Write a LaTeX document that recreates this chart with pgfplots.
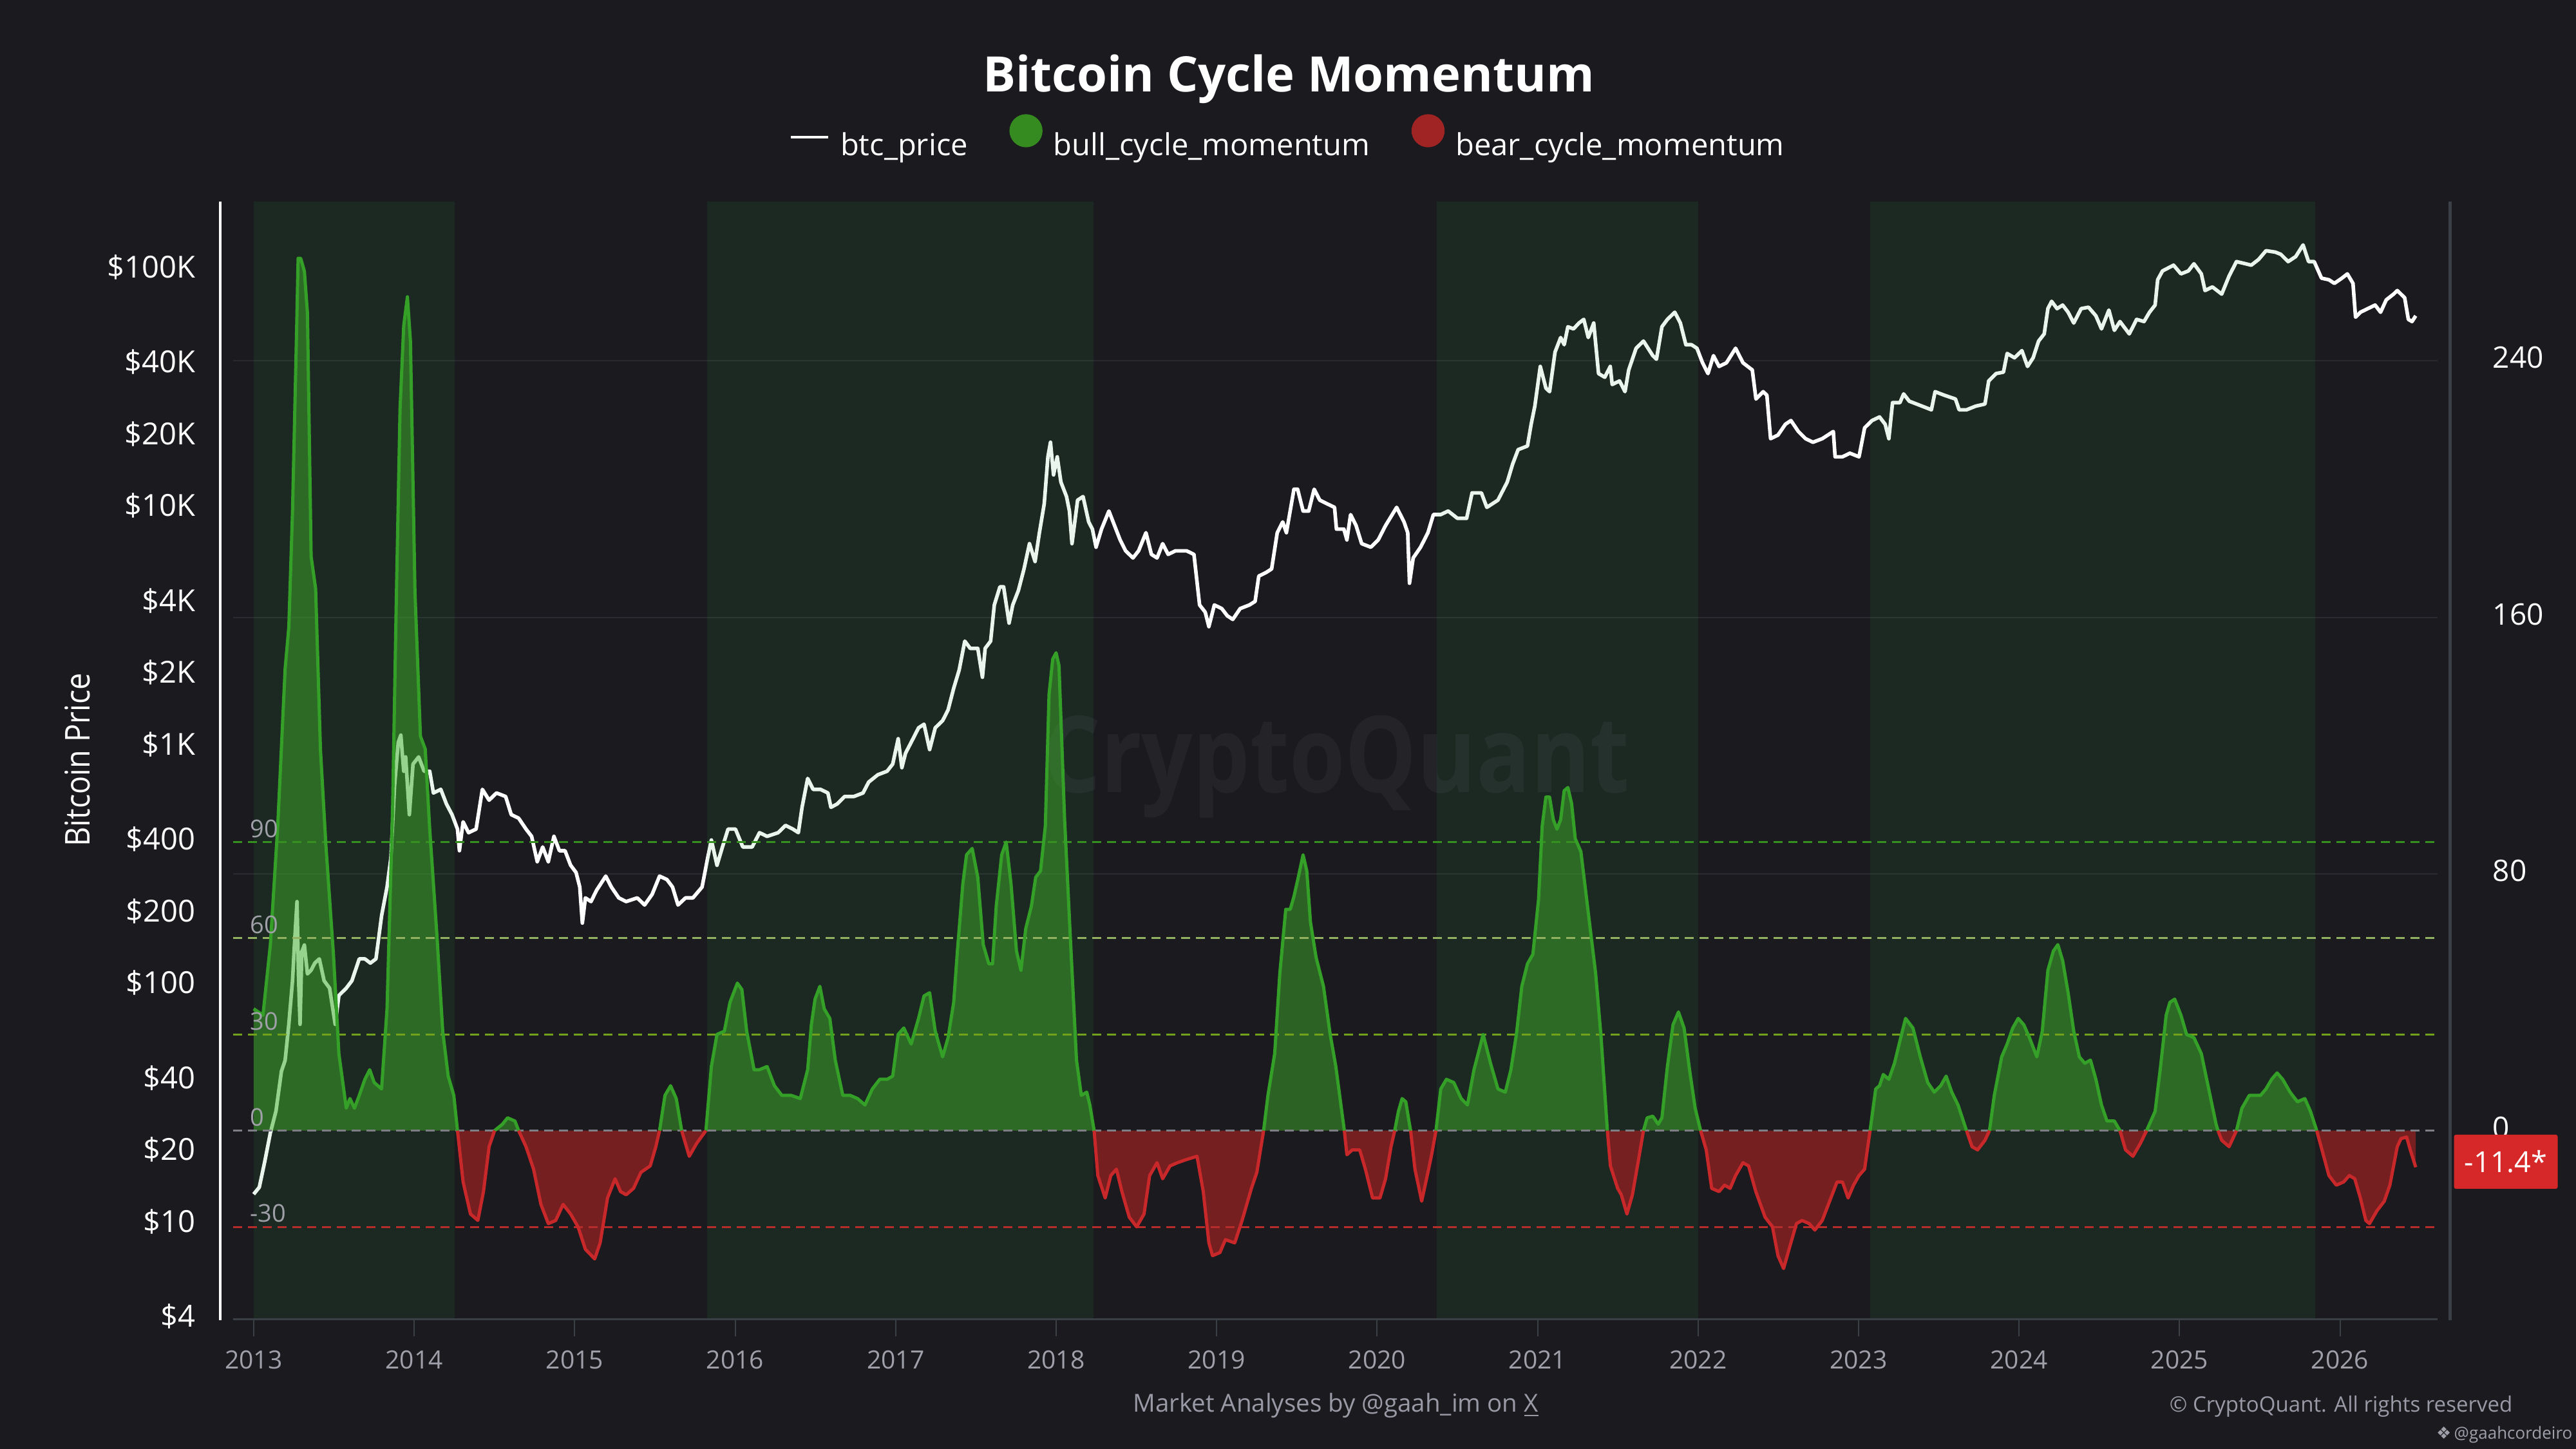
\documentclass[border=0pt]{standalone}
\usepackage{pgfplots}
\pgfplotsset{compat=1.18}
\usepackage{pgfplotstable}
\usepackage{fontspec}
\setmainfont{Open Sans}
\newfontfamily\dejavu{DejaVu Sans}

\definecolor{bg}{HTML}{1A1A1F}
\definecolor{band}{HTML}{37AF50}
\definecolor{bullfill}{HTML}{3FAF2B}
\definecolor{bullline}{HTML}{35A028}
\definecolor{bearfill}{HTML}{7A2022}
\definecolor{bearline}{HTML}{C8282A}
\definecolor{axgray}{HTML}{3B4046}
\definecolor{gridc}{HTML}{2A2A30}
\definecolor{ticktext}{HTML}{A0A0AA}
\definecolor{lv90}{HTML}{35901F}
\definecolor{lv60}{HTML}{92B262}
\definecolor{lv30}{HTML}{72A21C}
\definecolor{lv0}{HTML}{7E7E86}
\definecolor{lvm30}{HTML}{B52C2B}
\definecolor{boxred}{HTML}{D62828}
\definecolor{foot}{HTML}{9A9AA6}
\definecolor{legg}{HTML}{358A20}
\definecolor{legr}{HTML}{A02424}
\definecolor{lvtext}{HTML}{A0A0A8}

\pgfplotstableread{
t p
2013.000 13.0
2013.035 13.9
2013.069 17.8
2013.104 23.5
2013.139 29.0
2013.173 42.6
2013.196 47.3
2013.219 67
2013.242 102
2013.254 144
2013.270 219
2013.279 109
2013.289 67
2013.300 135
2013.316 144
2013.335 109
2013.358 113
2013.381 121
2013.409 126
2013.439 102
2013.473 95
2013.508 67
2013.531 88.5
2013.577 95
2013.612 102
2013.658 126
2013.693 126
2013.727 121
2013.762 126
2013.797 191
2013.831 252
2013.855 334
2013.878 670
2013.901 1019
2013.917 1092
2013.935 771
2013.947 885
2013.970 507
2013.993 826
2014.028 885
2014.062 771
2014.097 771
2014.120 625
2014.166 647
2014.201 562
2014.236 507
2014.270 441
2014.282 358
2014.305 473
2014.339 426
2014.386 441
2014.425 647
2014.467 583
2014.513 625
2014.570 604
2014.605 507
2014.651 490
2014.697 441
2014.732 411
2014.767 322
2014.801 371
2014.836 322
2014.871 411
2014.905 358
2014.940 358
2014.975 311
2015.009 290
2015.032 252
2015.048 178
2015.067 227
2015.102 219
2015.136 244
2015.194 280
2015.229 252
2015.275 227
2015.321 219
2015.390 227
2015.436 212
2015.483 235
2015.529 280
2015.575 271
2015.610 252
2015.644 212
2015.691 227
2015.737 227
2015.794 252
2015.829 334
2015.852 397
2015.887 311
2015.921 371
2015.956 441
2016.002 441
2016.048 371
2016.106 371
2016.152 426
2016.199 411
2016.268 426
2016.314 457
2016.360 441
2016.394 426
2016.417 544
2016.452 719
2016.486 647
2016.532 647
2016.578 625
2016.597 544
2016.636 562
2016.682 604
2016.740 604
2016.797 625
2016.832 694
2016.889 745
2016.947 771
2016.982 826
2017.016 1055
2017.039 798
2017.062 918
2017.097 1019
2017.143 1172
2017.177 1213
2017.212 950
2017.247 1172
2017.293 1256
2017.327 1394
2017.362 1718
2017.396 2047
2017.431 2706
2017.465 2523
2017.512 2523
2017.541 1910
2017.558 2523
2017.592 2706
2017.615 3837
2017.650 4571
2017.673 4571
2017.707 3221
2017.730 3837
2017.765 4409
2017.800 5433
2017.834 6934
2017.869 5834
2017.896 7709
2017.926 10184
2017.949 16032
2017.965 18450
2017.984 13463
2018.007 16032
2018.030 12560
2018.065 10920
2018.083 9500
2018.099 6934
2018.134 10550
2018.168 10920
2018.203 8550
2018.226 7980
2018.249 6700
2018.283 7980
2018.329 9500
2018.364 8260
2018.399 7190
2018.433 6470
2018.479 6040
2018.514 6470
2018.560 7709
2018.594 6250
2018.629 6040
2018.664 6934
2018.698 6250
2018.744 6470
2018.813 6470
2018.859 6250
2018.894 3837
2018.929 3581
2018.952 3112
2018.986 3837
2019.032 3706
2019.067 3454
2019.101 3337
2019.147 3706
2019.205 3837
2019.240 3972
2019.263 5070
2019.309 5250
2019.343 5433
2019.378 7709
2019.412 8550
2019.435 7709
2019.482 11720
2019.505 11720
2019.539 9500
2019.574 9500
2019.608 11720
2019.643 10550
2019.689 10184
2019.735 9840
2019.747 7980
2019.793 7980
2019.812 7190
2019.835 9180
2019.869 8260
2019.904 6934
2019.961 6700
2020.007 7190
2020.053 8260
2020.122 9840
2020.168 8550
2020.191 7709
2020.202 4730
2020.225 6040
2020.271 6700
2020.317 7709
2020.351 9180
2020.397 9180
2020.443 9500
2020.501 8850
2020.558 8850
2020.592 11320
2020.650 11320
2020.684 9840
2020.753 10550
2020.811 12560
2020.845 14960
2020.879 17180
2020.937 17790
2020.960 21940
2020.983 26140
2021.017 38350
2021.052 31120
2021.075 30060
2021.109 44060
2021.144 50700
2021.166 47300
2021.189 56250
2021.224 55100
2021.258 58300
2021.288 60400
2021.316 50700
2021.350 58300
2021.380 35800
2021.419 34550
2021.453 38350
2021.465 32220
2021.511 33340
2021.545 30060
2021.568 37070
2021.614 45700
2021.660 48980
2021.718 42560
2021.741 41120
2021.775 56250
2021.809 60400
2021.855 64700
2021.890 58300
2021.924 47300
2021.959 47300
2021.993 45700
2022.028 39720
2022.062 35800
2022.096 42560
2022.131 38350
2022.177 39720
2022.234 45700
2022.280 39720
2022.338 37070
2022.361 28000
2022.406 30060
2022.429 29040
2022.452 19100
2022.498 19770
2022.544 21940
2022.579 22750
2022.625 20470
2022.670 19100
2022.716 18450
2022.774 19100
2022.843 20470
2022.854 16030
2022.900 16030
2022.946 16600
2023.003 16030
2023.038 21200
2023.084 22750
2023.131 23550
2023.166 21940
2023.189 19100
2023.212 27040
2023.258 27040
2023.281 29420
2023.316 27420
2023.362 26680
2023.408 25950
2023.454 25230
2023.477 30060
2023.535 29040
2023.604 28000
2023.627 25230
2023.673 25230
2023.730 26140
2023.788 26680
2023.811 33340
2023.857 35800
2023.903 36300
2023.926 43460
2023.972 41690
2024.018 44670
2024.053 38350
2024.088 41690
2024.122 48980
2024.157 52500
2024.180 66990
2024.203 71900
2024.237 66990
2024.272 69340
2024.306 64700
2024.341 58300
2024.387 66990
2024.433 67920
2024.479 62520
2024.514 55100
2024.560 66070
2024.594 54330
2024.629 59150
2024.687 52500
2024.733 60400
2024.779 59150
2024.813 64700
2024.848 69340
2024.864 88530
2024.894 96400
2024.963 101900
2025.009 93700
2025.055 96400
2025.090 103300
2025.136 93700
2025.159 79800
2025.205 82600
2025.263 77100
2025.309 91800
2025.355 105500
2025.412 103300
2025.447 101900
2025.493 107700
2025.539 117200
2025.597 115600
2025.631 113200
2025.677 105500
2025.724 110700
2025.770 123900
2025.804 105500
2025.839 105500
2025.885 89900
2025.931 88530
2025.965 85500
2026.012 89900
2026.046 93700
2026.081 85500
2026.097 61700
2026.127 64700
2026.173 66990
2026.219 69340
2026.253 64700
2026.288 72900
2026.334 77100
2026.357 79800
2026.403 74450
2026.426 60400
2026.449 59150
2026.472 62520
}\pricetab

\pgfplotstableread{
t m
2013.000 38
2013.058 36
2013.104 58
2013.150 95
2013.196 144
2013.219 157
2013.242 193
2013.266 246
2013.277 272
2013.293 272
2013.316 268
2013.335 255
2013.358 179
2013.386 169
2013.416 119
2013.450 89
2013.497 55
2013.531 24
2013.577 7
2013.600 10
2013.628 7
2013.658 11
2013.693 16
2013.723 19
2013.751 15
2013.797 13
2013.831 38
2013.866 101
2013.889 166
2013.912 225
2013.935 251
2013.958 260
2013.977 246
2014.005 168
2014.039 123
2014.069 119
2014.097 94
2014.143 60
2014.178 31
2014.212 17
2014.247 11
2014.270 0
2014.305 -16
2014.351 -26
2014.397 -28
2014.432 -19
2014.467 -5
2014.501 0
2014.550 2
2014.582 4
2014.628 3
2014.651 0
2014.697 -5
2014.744 -12
2014.790 -23
2014.836 -29
2014.882 -28
2014.928 -23
2014.975 -26
2015.021 -30
2015.067 -37
2015.125 -40
2015.159 -35
2015.205 -21
2015.252 -15
2015.286 -19
2015.321 -20
2015.367 -18
2015.413 -13
2015.471 -11
2015.506 -5
2015.529 0
2015.563 11
2015.598 14
2015.633 10
2015.667 0
2015.714 -8
2015.760 -4
2015.818 0
2015.852 20
2015.887 30
2015.933 31
2015.968 40
2016.014 46
2016.042 44
2016.072 31
2016.118 19
2016.152 19
2016.199 20
2016.245 14
2016.291 11
2016.349 11
2016.406 10
2016.452 19
2016.475 33
2016.498 41
2016.528 45
2016.555 38
2016.590 35
2016.624 22
2016.671 11
2016.717 11
2016.763 10
2016.809 8
2016.855 13
2016.901 16
2016.947 16
2016.982 17
2017.016 30
2017.051 32
2017.097 27
2017.143 35
2017.177 42
2017.212 43
2017.247 31
2017.293 23
2017.327 29
2017.362 40
2017.385 56
2017.419 77
2017.442 86
2017.477 88
2017.512 79
2017.546 58
2017.581 52
2017.604 52
2017.627 70
2017.661 86
2017.689 90
2017.719 77
2017.753 56
2017.781 50
2017.811 63
2017.846 70
2017.873 79
2017.903 81
2017.933 95
2017.956 136
2017.979 147
2018.000 149
2018.018 145
2018.053 97
2018.088 61
2018.127 22
2018.157 11
2018.191 12
2018.210 8
2018.237 0
2018.260 -14
2018.306 -21
2018.341 -14
2018.376 -12
2018.410 -19
2018.456 -27
2018.502 -30
2018.548 -26
2018.583 -14
2018.629 -10
2018.664 -15
2018.710 -11
2018.756 -10
2018.813 -9
2018.878 -8
2018.917 -19
2018.952 -35
2018.975 -39
2019.021 -38
2019.055 -34
2019.113 -35
2019.159 -28
2019.217 -18
2019.251 -13
2019.293 0
2019.320 11
2019.362 24
2019.394 49
2019.431 69
2019.459 69
2019.482 73
2019.509 79
2019.539 86
2019.562 81
2019.585 65
2019.620 54
2019.666 45
2019.708 30
2019.743 20
2019.796 0
2019.812 -7.5
2019.846 -6
2019.892 -6
2019.927 -12
2019.972 -21
2020.018 -21
2020.053 -15
2020.087 -5
2020.110 0
2020.133 6
2020.156 10
2020.179 9
2020.202 2
2020.209 0
2020.236 -12
2020.278 -22
2020.317 -13
2020.340 -7.5
2020.367 0
2020.397 13
2020.432 16
2020.478 15
2020.524 10
2020.563 8
2020.604 19
2020.661 30
2020.707 21
2020.753 13
2020.799 12
2020.834 19
2020.868 30
2020.902 45
2020.937 52
2020.971 55
2021.006 72
2021.029 95
2021.052 104
2021.075 104
2021.098 97
2021.121 94
2021.144 97
2021.166 106
2021.189 107
2021.212 102
2021.235 91
2021.270 87
2021.316 68
2021.362 49
2021.396 29
2021.435 0
2021.454 -11
2021.499 -18
2021.522 -20
2021.557 -26
2021.591 -20
2021.626 -10
2021.660 0
2021.683 4
2021.718 4.5
2021.752 2
2021.775 4
2021.809 20
2021.844 33
2021.878 37
2021.913 32
2021.947 19
2021.982 7
2022.016 0
2022.051 -6
2022.085 -18
2022.131 -19
2022.165 -17
2022.200 -18
2022.234 -14
2022.280 -10
2022.315 -11
2022.360 -19
2022.418 -27
2022.464 -30
2022.498 -39
2022.533 -43
2022.567 -37
2022.613 -29
2022.648 -28
2022.693 -29
2022.728 -31
2022.774 -28
2022.820 -22
2022.866 -16
2022.900 -16
2022.935 -21
2022.969 -17
2023.003 -14
2023.038 -12
2023.072 0
2023.107 13
2023.131 14
2023.154 17.5
2023.189 16
2023.224 21
2023.258 28
2023.293 35
2023.339 32
2023.385 23
2023.431 15
2023.472 12
2023.512 14
2023.546 17
2023.581 12
2023.620 8
2023.673 0
2023.707 -5
2023.742 -6
2023.788 -3
2023.816 0
2023.846 11
2023.892 23
2023.926 27
2023.961 32
2023.995 35
2024.030 33
2024.065 29
2024.111 23
2024.145 31
2024.180 50
2024.214 56
2024.242 58
2024.272 53
2024.306 43
2024.341 31
2024.376 23
2024.410 21
2024.445 22
2024.479 16
2024.514 8
2024.548 3
2024.594 3
2024.629 0
2024.664 -6
2024.710 -8
2024.756 -4
2024.795 0
2024.848 6
2024.882 20
2024.917 36
2024.940 40
2024.970 41
2025.009 36
2025.044 30
2025.090 29
2025.136 24
2025.182 13
2025.228 2
2025.240 0
2025.263 -3
2025.309 -5
2025.355 0
2025.389 7
2025.435 11
2025.470 11
2025.505 11
2025.539 13
2025.574 16
2025.608 18
2025.643 16
2025.689 12
2025.735 9
2025.781 10
2025.816 6
2025.855 0
2025.896 -7.5
2025.931 -14
2025.977 -17
2026.023 -16
2026.058 -14
2026.092 -15
2026.127 -21
2026.161 -28
2026.184 -29
2026.230 -25
2026.276 -22
2026.311 -17
2026.357 -5
2026.380 -2.5
2026.415 -2
2026.438 -6
2026.472 -11.4
}\momtab

\pgfplotsset{
  base/.style={
    scale only axis, width=34.23cm, height=17.36cm,
    at={(3.62cm,2.01cm)}, anchor=south west,
    xmin=2012.872, xmax=2026.608,
    axis line style={draw=none},
  },
  momlim/.style={ymin=-58.9, ymax=289.7},
}

\begin{document}
\begin{tikzpicture}
\useasboundingbox (0,0) rectangle (40,22.5);
\fill[bg] (0,0) rectangle (40,22.5);

% ---------- axis M0: grid, ticks, right labels, watermark ----------
\begin{axis}[base, momlim,
  ytick={80,160,240}, yticklabels={80,160,240},
  extra y ticks={0}, extra y tick labels={0},
  extra y tick style={grid=none},
  yticklabel pos=right,
  ymajorgrids, grid style={gridc, line width=0.02cm},
  ytick style={draw=none},
  yticklabel style={anchor=west, inner sep=0pt, xshift=0.59cm, yshift=0.05cm,
    font=\fontsize{13.1}{15}\selectfont, text=white},
  xtick={2013,2014,2015,2016,2017,2018,2019,2020,2021,2022,2023,2024,2025,2026},
  xticklabels={2013,2014,2015,2016,2017,2018,2019,2020,2021,2022,2023,2024,2025,2026},
  xtick pos=left, tick align=outside, major tick length=0.26cm,
  xtick style={axgray, line width=0.02cm},
  xticklabel style={anchor=north, inner sep=0pt, yshift=-0.22cm,
    font=\fontsize{11.1}{13}\selectfont, text=ticktext},
]
\node[anchor=base, text=white, text opacity=0.045, inner sep=0pt]
  at (axis cs:2019.746,105.4)
  {\scalebox{0.85}[1]{\fontsize{46.9}{50}\selectfont\bfseries CryptoQuant}};
\end{axis}

% ---------- axis P: price (log) ----------
\begin{axis}[base, ymode=log, ymin=3.878, ymax=188365,
  xtick=\empty,
  ytick={4,10,20,40,100,200,400,1000,2000,4000,10000,20000,40000,100000},
  yticklabels={\$4,\$10,\$20,\$40,\$100,\$200,\$400,\$1K,\$2K,\$4K,\$10K,\$20K,\$40K,\$100K},
  ytick style={draw=none},
  yticklabel style={anchor=east, inner sep=0pt, xshift=-0.58cm,
    font=\fontsize{13.4}{15}\selectfont, text=white},
]
\addplot[white, line width=0.056cm, line join=round, mark=none] table[x=t, y=p] {\pricetab};
\end{axis}

% ---------- axis M1: momentum ----------
\begin{axis}[base, momlim, xtick=\empty, ytick=\empty,
  legend style={at={(0.478,1.0582)}, anchor=center, draw=none, fill=none,
    legend columns=3, font=\fontsize{13.4}{15}\selectfont, text=white,
    inner sep=0pt, outer sep=0pt, nodes={inner sep=0pt},
    /tikz/every odd column/.append style={column sep=0.17cm},
    /tikz/every even column/.append style={column sep=0.645cm}},
]
\addlegendimage{legend image code/.code={\draw[white, line width=0.045cm] (0cm,0.13cm) -- (0.58cm,0.13cm);}}
\addlegendentry{btc\_price}
\addlegendimage{legend image code/.code={\fill[legg] (0.25cm,0.23cm) circle (0.25cm);}}
\addlegendentry{bull\_cycle\_momentum}
\addlegendimage{legend image code/.code={\fill[legr] (0.25cm,0.23cm) circle (0.25cm);}}
\addlegendentry{bear\_cycle\_momentum}

% bands
\addplot[forget plot, draw=none, fill=band, fill opacity=0.1] coordinates {(2013.000,-58.9) (2013.000,289.7) (2014.254,289.7) (2014.254,-58.9)} -- cycle;
\addplot[forget plot, draw=none, fill=band, fill opacity=0.1] coordinates {(2015.824,-58.9) (2015.824,289.7) (2018.233,289.7) (2018.233,-58.9)} -- cycle;
\addplot[forget plot, draw=none, fill=band, fill opacity=0.1] coordinates {(2020.370,-58.9) (2020.370,289.7) (2022.000,289.7) (2022.000,-58.9)} -- cycle;
\addplot[forget plot, draw=none, fill=band, fill opacity=0.1] coordinates {(2023.072,-58.9) (2023.072,289.7) (2025.846,289.7) (2025.846,-58.9)} -- cycle;

% fills
\addplot[forget plot, draw=none, fill=bullfill, fill opacity=0.49] table[x=t, y expr={max(\thisrow{m},0)}] {\momtab} \closedcycle;
\addplot[forget plot, draw=none, fill=bearfill, fill opacity=0.97] table[x=t, y expr={min(\thisrow{m},0)}] {\momtab} \closedcycle;

% level lines
\addplot[forget plot, lv90, line width=0.03cm, dash pattern=on 0.14cm off 0.09cm] coordinates {(2012.872,90) (2026.608,90)};
\addplot[forget plot, lv60, line width=0.03cm, dash pattern=on 0.14cm off 0.09cm] coordinates {(2012.872,60) (2026.608,60)};
\addplot[forget plot, lv30, line width=0.03cm, dash pattern=on 0.14cm off 0.09cm] coordinates {(2012.872,30) (2026.608,30)};
\addplot[forget plot, lv0, line width=0.03cm, dash pattern=on 0.14cm off 0.09cm] coordinates {(2012.872,0) (2026.608,0)};
\addplot[forget plot, lvm30, line width=0.03cm, dash pattern=on 0.14cm off 0.09cm] coordinates {(2012.872,-30) (2026.608,-30)};

% momentum lines
\addplot[forget plot, bullline, line width=0.05cm, line join=round, unbounded coords=jump, restrict y to domain=0:400] table[x=t, y=m] {\momtab};
\addplot[forget plot, bearline, line width=0.05cm, line join=round, unbounded coords=jump, restrict y to domain=-100:0] table[x=t, y=m] {\momtab};

% level labels
\foreach \lv/\lt in {90/90,60/60,30/30,0/0,-30/-30}{
  \edef\temp{\noexpand\node[anchor=south west, inner sep=0pt, text=lvtext,
    font=\noexpand\fontsize{10.8}{12}\noexpand\selectfont] at (axis cs:2012.976,\lv) [yshift=0.06cm] {\lt};}
  \temp
}
\end{axis}

% axis lines (outside the clipped plot area)
\draw[axgray, line width=0.03cm] (3.62,2.01) -- (37.85,2.01);
\draw[white, line width=0.043cm] (3.42,2.00) -- (3.42,19.37);
\draw[axgray, line width=0.05cm] (38.04,2.00) -- (38.04,19.37);

% title
\node[anchor=base, text=white, inner sep=0pt] at (20.01,21.07)
  {\fontsize{21.6}{26}\selectfont\bfseries Bitcoin Cycle Momentum};
% y label
\node[rotate=90, anchor=base, text=white, inner sep=0pt] at (1.40,10.70)
  {\scalebox{0.88}[1]{\fontsize{15.1}{18}\selectfont Bitcoin Price}};
% value box
\node[fill=boxred, rounded corners=0.03cm, text=white, inner sep=0pt,
  minimum width=1.61cm, minimum height=0.84cm,
  font=\fontsize{12.8}{14}\selectfont] at (38.91,4.46) {-11.4*};
% footer
\node[anchor=base, text=foot, inner sep=0pt] at (20.74,0.57)
  {\fontsize{10.95}{13}\selectfont Market Analyses by @gaah\_im on \underline{X}};
\node[anchor=base east, text=foot, inner sep=0pt] at (39.02,0.57)
  {\fontsize{9.4}{11}\selectfont \textcopyright{} CryptoQuant. All rights reserved};
\node[anchor=base east, text=ticktext, inner sep=0pt] at (39.95,0.15)
  {\fontsize{7.4}{9}\selectfont {\dejavu ❖}\,@gaahcordeiro};
\end{tikzpicture}
\end{document}
